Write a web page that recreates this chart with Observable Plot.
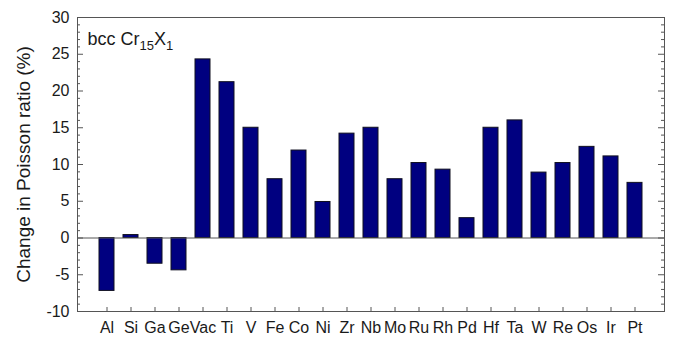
<!DOCTYPE html>
<html><head><meta charset="utf-8">
<script src="https://cdn.jsdelivr.net/npm/d3@7"></script>
<script src="https://cdn.jsdelivr.net/npm/@observablehq/plot@0.6"></script>
<style>body{margin:0;background:#fff;overflow:hidden} svg{display:block}</style>
</head><body><div id="chart"></div>
<script>
const elements = ["Al","Si","Ga","Ge","Vac","Ti","V","Fe","Co","Ni","Zr","Nb","Mo","Ru","Rh","Pd","Hf","Ta","W","Re","Os","Ir","Pt"];
const poissonChange = [-7.2, 0.4, -3.5, -4.4, 24.3, 21.2, 15.0, 8.0, 11.9, 4.9, 14.2, 15.0, 8.0, 10.2, 9.3, 2.7, 15.0, 16.0, 8.9, 10.2, 12.4, 11.1, 7.5];
const yTickValues = [-10, -5, 0, 5, 10, 15, 20, 25, 30];
const yMinorValues = d3.range(-10, 31, 1).filter(v => v % 5 !== 0);
const yLabel = "Change in Poisson ratio (%)";
const annoParts = ["bcc Cr", "15", "X", "1"];

const data = elements.map((el, i) => ({el, val: poissonChange[i]}));

const W = 673, H = 337, mL = 77, mR = 9, mT = 17, mB = 26;
const innerW = W - mL - mR, innerH = H - mT - mB;
const axisColor = "#555";

const chart = Plot.plot({
  width: W, height: H,
  marginLeft: mL, marginRight: mR, marginTop: mT, marginBottom: mB,
  style: {fontFamily: "'Liberation Sans', Arial, sans-serif", fontSize: "16px", color: "#1a1a1a", background: "#fff"},
  x: {type: "band", domain: elements, paddingInner: 0.375, paddingOuter: 0.6875},
  y: {domain: [-10, 30]},
  marks: [
    Plot.barY(data, {x: "el", y: "val", fill: "#000080", stroke: "#101020", strokeWidth: 1}),
    Plot.ruleY([0], {stroke: axisColor, strokeWidth: 1}),
    Plot.frame({stroke: axisColor, strokeWidth: 1}),
    Plot.tickY(yTickValues, {y: d => d, stroke: axisColor, insetRight: innerW - 6}),
    Plot.tickY(yMinorValues, {y: d => d, stroke: axisColor, insetRight: innerW - 3}),
    Plot.tickY(yTickValues, {y: d => d, stroke: axisColor, insetLeft: innerW - 6}),
    Plot.tickY(yMinorValues, {y: d => d, stroke: axisColor, insetLeft: innerW - 3}),
    Plot.tickX(elements, {x: d => d, stroke: axisColor, insetTop: innerH - 4}),
    Plot.axisY({ticks: yTickValues, tickFormat: d => String(d), tickSize: 0, tickPadding: 8, fontSize: 16, label: null}),
    Plot.axisX({tickSize: 0, tickPadding: 10, fontSize: 16, label: null}),
    Plot.text([yLabel], {frameAnchor: "left", textAnchor: "middle", rotate: -90, dx: -54, dy: 0, fontSize: 19, fill: "#1a1a1a"}),
    Plot.text([annoParts.join("")], {frameAnchor: "top-left", textAnchor: "start", lineAnchor: "top", dx: 10, dy: 15, fontSize: 18, fill: "#1a1a1a"})
  ]
});

d3.select(chart).selectAll("text").filter(function() { return this.textContent === annoParts.join(""); })
  .each(function() {
    const t = d3.select(this);
    t.text(null);
    t.append("tspan").text(annoParts[0]);
    t.append("tspan").attr("font-size", "13px").attr("dy", 5).text(annoParts[1]);
    t.append("tspan").attr("dy", -5).text(annoParts[2]);
    t.append("tspan").attr("font-size", "13px").attr("dy", 5).text(annoParts[3]);
  });

document.getElementById("chart").appendChild(chart);
</script>
</body></html>
